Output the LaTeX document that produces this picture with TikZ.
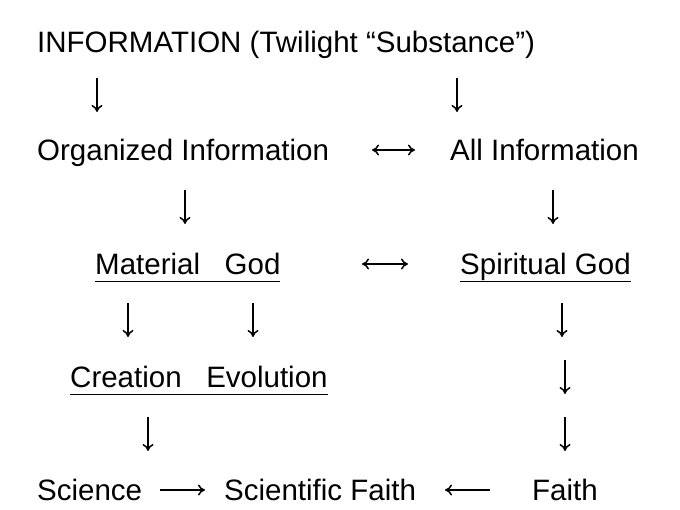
\documentclass[tikz,border=0pt]{standalone}
\usepackage{fontspec}
\usetikzlibrary{arrows.meta}
\setmainfont{Liberation Sans}
\begin{document}
\begin{tikzpicture}[x=1pt,y=-1pt,
  txt/.style={anchor=base west,inner sep=0pt,font=\fontsize{29.5}{34}\selectfont},
  arr/.style={line width=1.5pt,-{To[length=7pt,width=11pt]}},
  darr/.style={line width=1.5pt,{To[length=7pt,width=11pt]}-{To[length=7pt,width=11pt]}}]
\useasboundingbox (0,0) rectangle (680,509);
\node[txt] (info) at (37,52) {INFORMATION (Twilight “Substance”)};
\node[txt] (org) at (37,160) {Organized Information};
\node[txt] (all) at (450,160) {All Information};
\node[txt] (mat) at (95,274) {\underline{Material\ \ \ God\vphantom{p}}};
\node[txt] (spi) at (460,274) {\underline{Spiritual God}};
\node[txt] (cre) at (70,387) {\underline{Creation\ \ \ Evolution\vphantom{p}}};
\node[txt] (sci) at (37,500) {Science};
\node[txt] (sf) at (224,500) {Scientific Faith};
\node[txt] (fa) at (532,500) {Faith};
\foreach \n/\x/\y in {a1/97/95,a2/457/95,a3/185/207,a4/553/207,a5/128/320,a6/253/320,a7/562/320,a8/565/377,a9/565/434,a10/148/434}{
  \coordinate (\n s) at (\x,\y-17); \coordinate (\n e) at (\x,\y+17);
  \draw[arr] (\n s) -- (\n e);}
\coordinate (h1s) at (372,150); \coordinate (h1e) at (415,150);
\coordinate (h2s) at (362,264); \coordinate (h2e) at (408,264);
\coordinate (h3s) at (160,490); \coordinate (h3e) at (205,490);
\coordinate (h4s) at (490,490); \coordinate (h4e) at (445,490);
\draw[darr] (h1s) -- (h1e);
\draw[darr] (h2s) -- (h2e);
\draw[arr] (h3s) -- (h3e);
\draw[arr] (h4s) -- (h4e);
\end{tikzpicture}
\end{document}
